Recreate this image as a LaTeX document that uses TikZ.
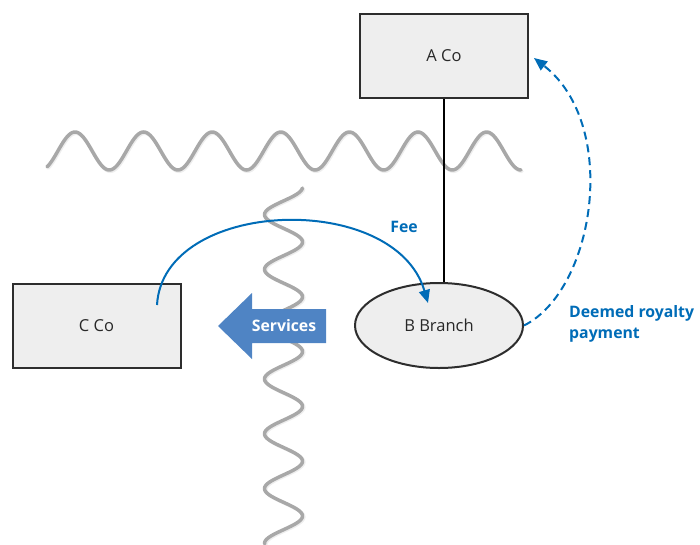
\documentclass[tikz,border=0pt]{standalone}
\usepackage{fontspec}
\setmainfont{Open Sans}
\usetikzlibrary{shapes.geometric,arrows.meta,calc}
\definecolor{boxfill}{RGB}{238,238,238}
\definecolor{boxline}{RGB}{45,45,45}
\definecolor{txtgray}{RGB}{40,40,40}
\definecolor{flowblue}{RGB}{0,108,183}
\definecolor{svcblue}{RGB}{79,132,196}
\definecolor{wavegray}{RGB}{168,168,168}
\definecolor{shadowgray}{RGB}{238,238,238}
\tikzset{
  entity/.style={draw=boxline, line width=2pt, fill=boxfill, rectangle, minimum width=168pt, minimum height=84pt, inner sep=0pt, font=\fontsize{16.5}{20}\selectfont, text=txtgray},
  branch/.style={draw=boxline, line width=2pt, fill=boxfill, ellipse, minimum width=168pt, minimum height=85pt, inner sep=0pt, font=\fontsize{16.5}{20}\selectfont, text=txtgray},
  wave/.style={draw=wavegray, line width=3.5pt, line cap=round},
  waveshadow/.style={draw=shadowgray, line width=3.5pt, line cap=round},
  flow/.style={draw=flowblue, line width=2pt, -{Triangle[length=13pt, width=11pt]}},
  flowlabel/.style={text=flowblue, font=\bfseries\fontsize{15.8}{20.5}\selectfont, inner sep=0pt},
}
\begin{document}
\begin{tikzpicture}[x=1pt, y=-1pt]
\useasboundingbox (0,0) rectangle (700,544);
% border waves
\draw[waveshadow] plot[domain=47:521, samples=300] ({\x+1}, {152.3 - 19*cos(5.2478*(\x-75))});
\draw[wave] plot[domain=47:521, samples=300] (\x, {151 - 19*cos(5.2478*(\x-75))});
\draw[waveshadow] plot[domain=188:544, samples=300] ({284.8+19*cos(6.5693*(\x-242))}, {\x+1});
\draw[wave] plot[domain=188:544, samples=300] ({283.5+19*cos(6.5693*(\x-242))}, \x);
% entities
\node[entity] (acoo) at (444,56) {A Co};
\node[entity] (ccoo) at (96.5,325.5) {C Co};
\node[branch] (bbr) at (439,325.5) {B Branch};
\draw[black, line width=1.3pt] (acoo.south) -- (acoo.south |- bbr.north);
% services arrow
\fill[svcblue] (218,326) -- (252,293) -- (252,309) -- (326,309) -- (326,343) -- (252,343) -- (252,359) -- cycle;
\node[text=white, font=\bfseries\fontsize{15.8}{19}\selectfont, inner sep=0pt] (svc) at (284,326) {Services};
% fee
\coordinate (feestart) at (157,305);
\coordinate (feeend) at (428,303);
\draw[flow] (feestart) .. controls (163,198) and (395,190) .. (feeend);
\node[flowlabel] (fee) at (404,227) {Fee};
% deemed royalty
\coordinate (royend) at ($(acoo.east)+(5,2)$);
\draw[flow, dash pattern=on 8pt off 5pt] (bbr.east) .. controls (595,290) and (620,125) .. (royend);
\node[flowlabel, anchor=north west, align=left] (roy) at (569,305.5) {Deemed royalty\\payment};
\end{tikzpicture}
\end{document}
